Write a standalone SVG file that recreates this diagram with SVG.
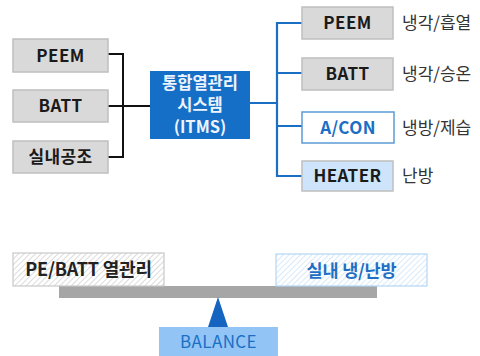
<svg xmlns="http://www.w3.org/2000/svg" width="480" height="356" viewBox="0 0 480 356">
<defs>
<pattern id="hatchGray" patternUnits="userSpaceOnUse" width="4" height="4" patternTransform="rotate(45)">
<rect width="4" height="4" fill="#ffffff"/>
<line x1="0" y1="0" x2="0" y2="4" stroke="#c4c4c4" stroke-width="1.2"/>
</pattern>
<pattern id="hatchBlue" patternUnits="userSpaceOnUse" width="4" height="4" patternTransform="rotate(45)">
<rect width="4" height="4" fill="#ffffff"/>
<line x1="0" y1="0" x2="0" y2="4" stroke="#bcdcf7" stroke-width="1.2"/>
</pattern>
<style>
text{font-family:"Noto Sans CJK KR","Noto Sans",sans-serif;}
.gbox{fill:#d9d9d9;stroke:#bfbfbf;stroke-width:1.5;}
.bt{font-size:17px;font-weight:bold;fill:#1a1a1a;text-anchor:middle;letter-spacing:0.4px;}
.lbl{font-size:17px;fill:#333333;}
.blk{stroke:#111111;stroke-width:2;fill:none;}
.blu{stroke:#1a6fc4;stroke-width:2.2;fill:none;}
</style>
</defs>
<g id="connectors">
<path class="blk" d="M108,54 H123 V157 H108 M108,106 H150"/>
<path class="blu" d="M250,103 H277 M302,23 H277 V176 H302 M277,73 H302 M277,126 H302"/>
</g>
<g id="left-peem"><rect class="gbox" x="13" y="39" width="95" height="33"/><text class="bt" x="60.5" y="61.5">PEEM</text></g>
<g id="left-batt"><rect class="gbox" x="13" y="90" width="95" height="32"/><text class="bt" x="60.5" y="112">BATT</text></g>
<g id="left-cabin"><rect class="gbox" x="13" y="141" width="95" height="32"/><text class="bt" x="60.5" y="163">실내공조</text></g>
<g id="itms"><rect x="150" y="71" width="100" height="68" fill="#156fc6"/>
<text class="bt" x="200" y="89" style="fill:#eef4ff;font-size:16.5px;letter-spacing:0">통합열관리</text>
<text class="bt" x="200" y="111" style="fill:#eef4ff;font-size:16.5px;letter-spacing:0">시스템</text>
<text class="bt" x="200" y="133" style="fill:#eef4ff;font-size:16.5px;letter-spacing:0">(ITMS)</text></g>
<g id="right-peem"><rect class="gbox" x="302" y="7" width="91" height="32"/><text class="bt" x="347.5" y="29">PEEM</text><text class="lbl" x="402" y="29">냉각/흡열</text></g>
<g id="right-batt"><rect class="gbox" x="302" y="58" width="91" height="32"/><text class="bt" x="347.5" y="80">BATT</text><text class="lbl" x="402" y="80">냉각/승온</text></g>
<g id="right-acon"><rect x="302" y="112" width="92" height="31" fill="#ffffff" stroke="#5b9bd5" stroke-width="1.5"/><text class="bt" x="348" y="133.5" style="fill:#1a6fc4">A/CON</text><text class="lbl" x="402" y="133.5">냉방/제습</text></g>
<g id="right-heater"><rect x="302" y="161" width="91" height="30" fill="#cde4fa" stroke="#bfbfbf" stroke-width="1.5"/><text class="bt" x="347.5" y="182">HEATER</text><text class="lbl" x="402" y="182">난방</text></g>
<g id="balance-scale">
<rect x="59" y="286" width="318" height="12" fill="#a6a6a6"/>
<polygon points="218,297 208,327 228,327" fill="#1565c0"/>
</g>
<g id="pe-batt"><rect x="13" y="253" width="151" height="33" fill="url(#hatchGray)" stroke="#c8c8c8" stroke-width="1.2"/><text class="bt" x="88.5" y="276" style="fill:#222222;font-size:18px;letter-spacing:-0.2px">PE/BATT 열관리</text></g>
<g id="cabin-hvac"><rect x="276" y="254" width="151" height="32" fill="url(#hatchBlue)" stroke="#b3d6f5" stroke-width="1.2"/><text class="bt" x="351.5" y="276.5" style="fill:#1f6fc5;font-size:17.5px;letter-spacing:-0.2px">실내 냉/난방</text></g>
<g id="balance"><rect x="159" y="327" width="119" height="29" fill="#92c5f5"/><text x="218.5" y="348" style="font-size:17px;fill:#1a6fc4;text-anchor:middle;letter-spacing:0.4px">BALANCE</text></g>
</svg>
